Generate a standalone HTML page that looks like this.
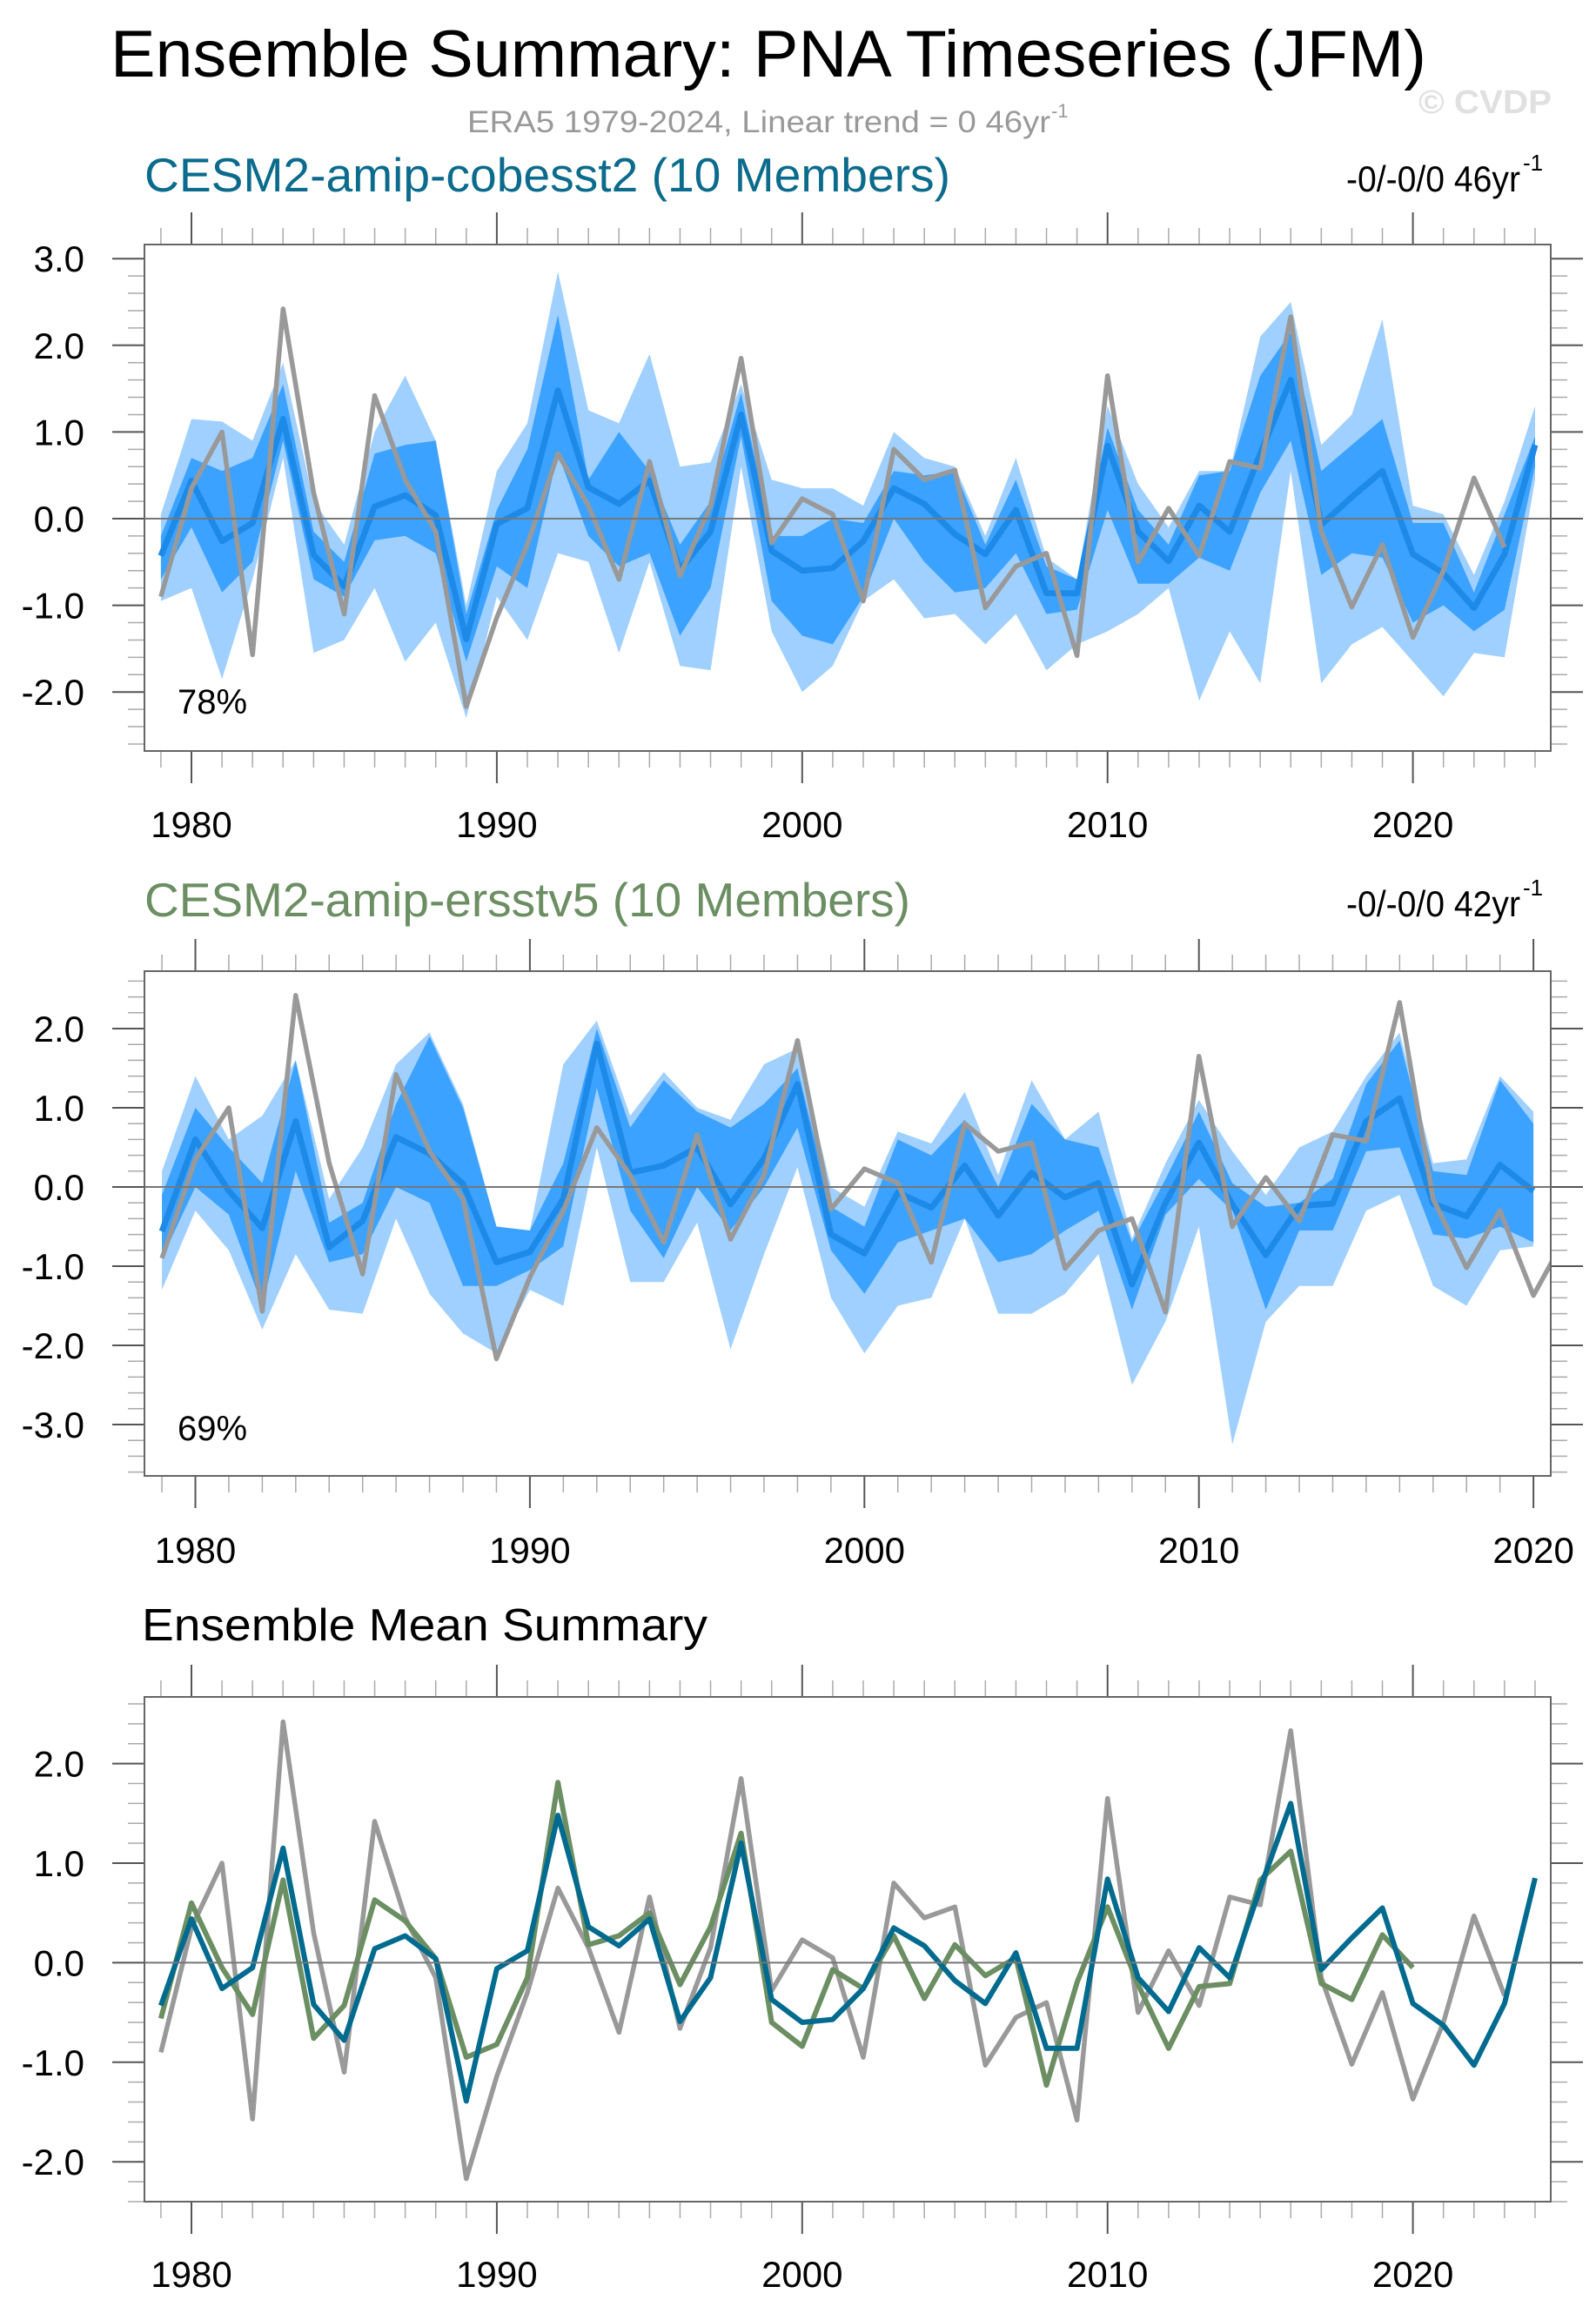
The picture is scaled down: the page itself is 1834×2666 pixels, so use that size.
<!DOCTYPE html>
<html><head><meta charset="utf-8"><title>Ensemble Summary: PNA Timeseries (JFM)</title>
<style>
html,body{margin:0;padding:0;background:#fff;}
svg{display:block;font-family:"Liberation Sans",Arial,sans-serif;}
</style></head>
<body>
<svg id="chart" width="1834" height="2666" viewBox="0 0 1834 2666" xmlns="http://www.w3.org/2000/svg">
<text x="127" y="88" font-size="76" textLength="1512" lengthAdjust="spacingAndGlyphs" fill="#000">Ensemble Summary: PNA Timeseries (JFM)</text>
<text x="537" y="152" font-size="35" textLength="670" lengthAdjust="spacingAndGlyphs" fill="#999">ERA5 1979-2024, Linear trend = 0 46yr</text>
<text x="1208" y="135" font-size="22" fill="#999">-1</text>
<text x="1630" y="130" font-size="38" font-weight="bold" textLength="153" lengthAdjust="spacingAndGlyphs" fill="#e0e0e0">© CVDP</text>

<text x="166" y="220" font-size="55" textLength="926" lengthAdjust="spacingAndGlyphs" fill="#0b6b8c">CESM2-amip-cobesst2 (10 Members)</text>
<text x="1547" y="220" font-size="42" textLength="200" lengthAdjust="spacingAndGlyphs" fill="#000">-0/-0/0 46yr</text>
<text x="1750" y="196" font-size="26" fill="#000">-1</text>

<text x="166" y="1053" font-size="55" textLength="880" lengthAdjust="spacingAndGlyphs" fill="#6b8e62">CESM2-amip-ersstv5 (10 Members)</text>
<text x="1547" y="1053" font-size="42" textLength="200" lengthAdjust="spacingAndGlyphs" fill="#000">-0/-0/0 42yr</text>
<text x="1750" y="1029" font-size="26" fill="#000">-1</text>

<text x="163" y="1885" font-size="52" textLength="650" lengthAdjust="spacingAndGlyphs" fill="#000">Ensemble Mean Summary</text>
<g id="plots"></g>
</svg>
<script>
// ---------- DATA ----------
const yearsA = [];
for (let y = 1979; y <= 2024; y++) yearsA.push(y);
const yearsB = [];
for (let y = 1979; y <= 2020; y++) yearsB.push(y);
const yearsObs = [];
for (let y = 1979; y <= 2023; y++) yearsObs.push(y);

const era5 = [-0.9,0.35,1.0,-1.57,2.42,0.3,-1.1,1.42,0.45,-0.15,-2.17,-1.14,-0.3,0.75,0.15,-0.7,0.66,-0.66,0.15,1.85,-0.28,0.23,0.05,-0.95,0.8,0.45,0.56,-1.03,-0.55,-0.4,-1.58,1.65,-0.5,0.12,-0.43,0.66,0.58,2.33,-0.15,-1.02,-0.3,-1.37,-0.6,0.47,-0.33];

const meanCobe = [-0.43,0.44,-0.26,-0.05,1.15,-0.42,-0.78,0.14,0.27,0.04,-1.39,-0.06,0.12,1.48,0.36,0.17,0.44,-0.59,-0.15,1.2,-0.37,-0.6,-0.57,-0.26,0.35,0.17,-0.18,-0.41,0.1,-0.86,-0.86,0.84,-0.15,-0.49,0.15,-0.15,0.75,1.6,-0.07,0.25,0.55,-0.41,-0.63,-1.03,-0.41,0.85];
const cobeLightLo = [-0.95,-0.8,-1.85,-0.7,0.7,-1.55,-1.4,-0.8,-1.65,-1.2,-2.3,-0.9,-1.4,-0.4,-0.5,-1.55,-0.5,-1.7,-1.75,0.6,-1.3,-2.0,-1.7,-0.95,-0.7,-1.15,-1.1,-1.45,-1.1,-1.75,-1.45,-1.3,-1.1,-0.8,-2.1,-1.3,-1.9,0.55,-1.9,-1.45,-1.25,-1.65,-2.05,-1.55,-1.6,0.45];
const cobeDarkLo = [-0.7,-0.1,-0.85,-0.5,0.9,-0.7,-0.9,-0.25,-0.2,-0.4,-1.65,-0.55,-0.8,0.75,-0.2,-0.55,-0.4,-1.35,-0.8,0.95,-0.95,-1.35,-1.45,-0.9,0.0,-0.5,-0.85,-0.8,-0.4,-1.1,-1.05,0.1,-0.75,-0.75,-0.45,-0.6,0.3,0.9,-0.65,-0.4,-0.45,-1.2,-1.0,-1.3,-1.05,0.6];
const cobeDarkHi = [-0.2,0.7,0.55,0.7,1.55,-0.15,-0.5,0.75,0.85,0.9,-1.1,0.1,0.8,2.35,0.45,1.0,0.55,-0.3,0.2,1.45,-0.2,-0.2,0.0,-0.05,0.55,0.5,0.55,-0.3,0.45,-0.55,-0.7,1.05,0.1,-0.3,0.5,0.55,1.65,2.15,0.55,0.85,1.15,-0.05,-0.05,-0.85,0.05,0.95];
const cobeLightHi = [0.05,1.15,1.12,0.9,1.8,0.2,-0.3,1.0,1.65,0.9,-1.0,0.55,1.1,2.85,1.25,1.1,1.9,0.6,0.65,1.55,0.45,0.35,0.35,0.15,1.0,0.7,0.6,-0.2,0.7,-0.45,-0.7,1.3,0.4,-0.1,0.55,0.55,2.1,2.5,0.85,1.2,2.3,0.15,0.05,-0.65,0.2,1.3];

const meanErss = [-0.56,0.6,-0.05,-0.52,0.83,-0.76,-0.43,0.63,0.42,0.04,-0.95,-0.82,-0.15,1.81,0.18,0.27,0.5,-0.22,0.36,1.3,-0.6,-0.84,-0.07,-0.26,0.27,-0.36,0.18,-0.13,0.05,-1.23,-0.2,0.56,-0.22,-0.86,-0.24,-0.21,0.83,1.12,-0.21,-0.37,0.28,-0.05];
const erssLightLo = [-1.3,-0.3,-0.8,-1.8,-0.85,-1.55,-1.6,-0.4,-1.35,-1.85,-2.1,-1.3,-1.5,0.5,-1.2,-1.2,-0.45,-2.05,-0.85,0.25,-1.4,-2.1,-1.5,-1.4,-0.4,-1.6,-1.6,-1.35,-0.85,-2.5,-1.7,-0.5,-3.25,-1.7,-1.25,-1.25,-0.3,-0.1,-1.25,-1.5,-0.8,-0.75];
const erssDarkLo = [-0.9,0.0,-0.35,-1.5,0.2,-0.95,-0.85,0.0,-0.2,-1.25,-1.25,-1.05,-0.75,1.25,-0.3,-0.9,0.0,-0.55,0.0,0.75,-0.8,-1.35,-0.7,-0.55,-0.4,-0.95,-0.85,-0.55,-0.3,-1.55,-0.35,0.1,-0.3,-1.55,-0.55,-0.55,0.45,0.5,-0.6,-0.65,-0.5,-0.7];
const erssDarkHi = [-0.1,1.0,0.5,0.05,1.6,-0.45,-0.2,1.05,1.9,1.0,-0.5,-0.55,0.3,2.0,0.75,1.35,0.95,0.75,1.05,1.5,-0.25,-0.5,0.6,0.4,0.85,0.0,1.05,0.6,0.5,-0.7,0.1,0.95,0.05,-0.25,-0.2,0.1,1.3,1.85,0.2,0.15,1.35,0.8];
const erssLightHi = [0.2,1.4,0.6,0.9,1.6,-0.15,0.5,1.55,1.95,1.05,-0.5,-0.55,1.55,2.1,0.9,1.45,1.0,0.85,1.55,1.75,0.0,-0.25,0.7,0.55,1.2,0.15,1.35,0.6,0.95,-0.65,0.3,1.1,0.45,-0.1,0.5,0.7,1.4,1.95,0.3,0.35,1.4,0.95];

const yTicks1 = [-2,-1,0,1,2,3];
const yTicks2 = [-3,-2,-1,0,1,2];
const yTicks3 = [-2,-1,0,1,2];
const xTickYears = [1980,1990,2000,2010,2020];

// ---------- DRAWING ----------
const NS = 'http://www.w3.org/2000/svg';
const root = document.getElementById('plots');
function el(tag, attrs, parent) {
  const e = document.createElementNS(NS, tag);
  for (const k in attrs) e.setAttribute(k, attrs[k]);
  (parent || root).appendChild(e);
  return e;
}
function makePanel(cfg) {
  const g = el('g', {});
  
  
  const xs = yr => cfg.x0 + (yr - cfg.yr0) * cfg.pxYr;
  const ys = v => cfg.y0 - v * cfg.pxU;
  const L = cfg.left, R = cfg.right, T = cfg.top, B = cfg.bottom;
  const clipId = 'clip-' + cfg.name;
  const cp = el('clipPath', {id: clipId}, g);
  el('rect', {x: L, y: T, width: R - L, height: B - T}, cp);
  const xt = el('g', {}, g);
  
  
  for (let yr = Math.ceil(cfg.xMin); yr <= cfg.xMax; yr++) {
    const x = xs(yr);
    if (x < L || x > R) continue;
    const major = yr % 10 === 0;
    const len = major ? 37 : 19;
    const col = major ? '#555' : '#aaa';
    el('line', {x1: x, x2: x, y1: T, y2: T - len, stroke: col, 'stroke-width': major ? 2 : 1.5}, xt);
    el('line', {x1: x, x2: x, y1: B, y2: B + len, stroke: col, 'stroke-width': major ? 2 : 1.5}, xt);
  }
  const yt = el('g', {}, g);
  
  
  for (let k = Math.ceil(cfg.yMin * 5); k <= Math.floor(cfg.yMax * 5); k++) {
    const v = k / 5, y = ys(v);
    if (y < T - 0.5 || y > B + 0.5) continue;
    const major = k % 5 === 0;
    const len = major ? 37 : 19;
    const col = major ? '#555' : '#aaa';
    el('line', {x1: L, x2: L - len, y1: y, y2: y, stroke: col, 'stroke-width': major ? 2 : 1.5}, yt);
    el('line', {x1: R, x2: R + len, y1: y, y2: y, stroke: col, 'stroke-width': major ? 2 : 1.5}, yt);
  }
  const cg = el('g', {'clip-path': 'url(#' + clipId + ')'}, g);
  function band(yrs, lo, hi, color, name) {
    let d = '';
    yrs.forEach((yr, i) => { d += (i ? 'L' : 'M') + xs(yr).toFixed(1) + ',' + ys(hi[i]).toFixed(1); });
    for (let i = yrs.length - 1; i >= 0; i--) d += 'L' + xs(yrs[i]).toFixed(1) + ',' + ys(lo[i]).toFixed(1);
    const p = el('path', {d: d + 'Z', fill: color, stroke: 'none'}, cg);
    
    
  }
  function line(yrs, vals, color, w, name) {
    let d = '';
    yrs.forEach((yr, i) => { d += (i ? 'L' : 'M') + xs(yr).toFixed(1) + ',' + ys(vals[i]).toFixed(1); });
    const p = el('path', {d: d, fill: 'none', stroke: color, 'stroke-width': w, 'stroke-linejoin': 'round'}, cg);
    
    
  }
  if (cfg.bands) {
    const b = cfg.bands;
    band(b.yrs, b.lightLo, b.lightHi, '#a0d0ff', 'ensemble-range-band');
    band(b.yrs, b.darkLo, b.darkHi, '#3ca2ff', 'ensemble-interquartile-band');
  }
  const zl = el('line', {x1: L, x2: R, y1: ys(0), y2: ys(0), stroke: '#777', 'stroke-width': 2}, g);
  
  
  cfg.lines.forEach(s => line(s.yrs, s.vals, s.color, s.w, s.name));
  const fr = el('rect', {x: L, y: T, width: R - L, height: B - T, fill: 'none', stroke: '#666', 'stroke-width': 2}, g);
  
  
  cfg.yTicks.forEach(v => {
    const t = el('text', {x: 97, y: ys(v) + 15, 'font-size': 42, 'text-anchor': 'end', fill: '#000'}, g);
    t.textContent = v.toFixed(1);
    
    
  });
  xTickYears.forEach(yr => {
    const x = xs(yr);
    if (x > R + 2) return;
    const t = el('text', {x: x, y: cfg.xLabelY, 'font-size': 42, 'text-anchor': 'middle', fill: '#000'}, g);
    t.textContent = String(yr);
    
    
  });
  if (cfg.pct) {
    const t = el('text', {x: 204, y: cfg.pctY, 'font-size': 40, fill: '#000'}, g);
    t.textContent = cfg.pct;
    
    
  }
}

makePanel({name: 'panel-cobesst2', left: 166, right: 1782, top: 281, bottom: 863,
  x0: 220, yr0: 1980, pxYr: 35.09, y0: 596, pxU: 99.6, xMin: 1978, xMax: 2026, yMin: -3, yMax: 3.2,
  yTicks: yTicks1, xLabelY: 962, pct: '78%', pctY: 820,
  bands: {yrs: yearsA, lightLo: cobeLightLo, darkLo: cobeDarkLo, darkHi: cobeDarkHi, lightHi: cobeLightHi},
  lines: [{yrs: yearsA, vals: meanCobe, color: '#1e8ae8', w: 7, name: 'ensemble-mean-line'},
          {yrs: yearsObs, vals: era5, color: '#999', w: 5.5, name: 'era5-observed-line'}]});

makePanel({name: 'panel-ersstv5', left: 166, right: 1782, top: 1116, bottom: 1696,
  x0: 224.5, yr0: 1980, pxYr: 38.44, y0: 1364, pxU: 91, xMin: 1978, xMax: 2022, yMin: -3.6, yMax: 3.2,
  yTicks: yTicks2, xLabelY: 1796, pct: '69%', pctY: 1655,
  bands: {yrs: yearsB, lightLo: erssLightLo, darkLo: erssDarkLo, darkHi: erssDarkHi, lightHi: erssLightHi},
  lines: [{yrs: yearsB, vals: meanErss, color: '#1e8ae8', w: 7, name: 'ensemble-mean-line'},
          {yrs: yearsObs, vals: era5, color: '#999', w: 5.5, name: 'era5-observed-line'}]});

makePanel({name: 'panel-ensemble-means', left: 166, right: 1782, top: 1950, bottom: 2530,
  x0: 220, yr0: 1980, pxYr: 35.09, y0: 2255.4, pxU: 114.4, xMin: 1978, xMax: 2026, yMin: -2.4, yMax: 2.7,
  yTicks: yTicks3, xLabelY: 2628,
  lines: [{yrs: yearsObs, vals: era5, color: '#999', w: 5.5, name: 'era5-observed-line'},
          {yrs: yearsB, vals: meanErss, color: '#6b8e62', w: 6, name: 'ersstv5-mean-line'},
          {yrs: yearsA, vals: meanCobe, color: '#006b8f', w: 6, name: 'cobesst2-mean-line'}]});
</script>
</body></html>
